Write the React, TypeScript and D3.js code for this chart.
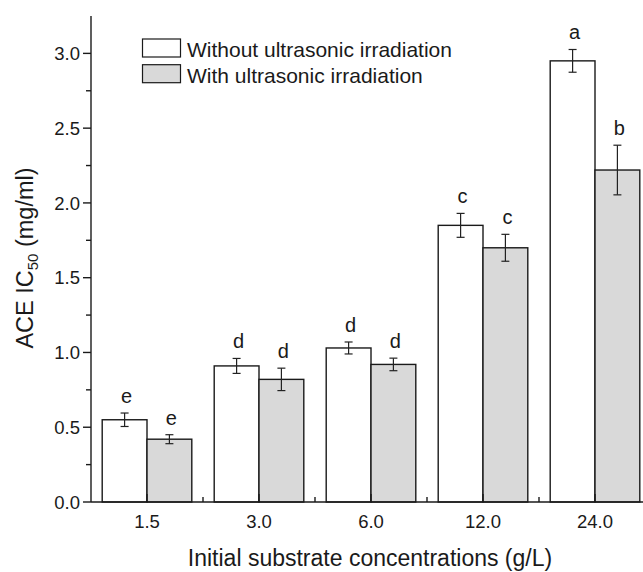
import React, { useEffect, useRef } from "react";
import * as d3 from "d3";

// concentrations on the x axis
const categories = ["1.5", "3.0", "6.0", "12.0", "24.0"];
const seriesNames = ["Without ultrasonic irradiation", "With ultrasonic irradiation"];
// IC50 values (mg/ml)
const withoutValues = [0.55, 0.91, 1.03, 1.85, 2.95];
const withValues = [0.42, 0.82, 0.92, 1.70, 2.22];
const withoutErr = [0.045, 0.05, 0.04, 0.08, 0.076];
const withErr = [0.03, 0.075, 0.042, 0.09, 0.166];
const withoutLetters = ["e", "d", "d", "c", "a"];
const withLetters = ["e", "d", "d", "c", "b"];
const yTicks = [0, 0.5, 1.0, 1.5, 2.0, 2.5, 3.0];

const W = 643;
const H = 572;
const FONT = "'Liberation Sans', Arial, Helvetica, sans-serif";

const App = () => {
  const svgRef = useRef<SVGSVGElement | null>(null);

  useEffect(() => {
    const svg = d3.select(svgRef.current);
    svg.selectAll("*").remove();

    const x = d3.scaleBand<string>().domain(categories).range([91, 651]).padding(0);
    const y = d3.scaleLinear().domain([0, 3.25]).range([502, 16]);
    const barW = x.bandwidth() * 0.4;
    const cx = (c: string) => (x(c) as number) + x.bandwidth() / 2;

    const series = [
      { values: withoutValues, err: withoutErr, letters: withoutLetters, fill: "#ffffff", off: -barW },
      { values: withValues, err: withErr, letters: withLetters, fill: "#d9d9d9", off: 0 },
    ];

    // bars
    series.forEach((s) => {
      svg.append("g")
        .selectAll("rect")
        .data(categories)
        .enter()
        .append("rect")
        .attr("x", (c) => cx(c) + s.off)
        .attr("y", (c, i) => y(s.values[i]))
        .attr("width", barW)
        .attr("height", (c, i) => y(0) - y(s.values[i]))
        .attr("fill", s.fill)
        .attr("stroke", "#1a1a1a")
        .attr("stroke-width", 1.4);
    });

    // error bars + letters
    series.forEach((s) => {
      const g = svg.append("g").attr("stroke", "#222").attr("stroke-width", 1.2);
      categories.forEach((c, i) => {
        const mx = cx(c) + s.off + barW / 2;
        const top = y(s.values[i] + s.err[i]);
        const bot = y(s.values[i] - s.err[i]);
        g.append("line").attr("x1", mx).attr("x2", mx).attr("y1", top).attr("y2", bot);
        g.append("line").attr("x1", mx - 4).attr("x2", mx + 4).attr("y1", top).attr("y2", top);
        g.append("line").attr("x1", mx - 4).attr("x2", mx + 4).attr("y1", bot).attr("y2", bot);
        svg.append("text")
          .attr("x", mx + 2)
          .attr("y", top - 10)
          .attr("text-anchor", "middle")
          .attr("font-family", FONT)
          .attr("font-size", 20)
          .attr("fill", "#1a1a1a")
          .text(s.letters[i]);
      });
    });

    // y axis
    const yAxis = svg.append("g").attr("stroke", "#1a1a1a").attr("stroke-width", 1.4);
    yAxis.append("line").attr("x1", 91).attr("x2", 91).attr("y1", y(3.25)).attr("y2", y(0));
    d3.range(0, 13).forEach((k) => {
      const v = k * 0.25;
      const major = k % 2 === 0;
      yAxis.append("line")
        .attr("x1", major ? 83 : 86)
        .attr("x2", 91)
        .attr("y1", y(v))
        .attr("y2", y(v));
    });
    svg.append("g")
      .selectAll("text")
      .data(yTicks)
      .enter()
      .append("text")
      .attr("x", 80)
      .attr("y", (d) => y(d))
      .attr("dy", "0.36em")
      .attr("text-anchor", "end")
      .attr("font-family", FONT)
      .attr("font-size", 18.5)
      .attr("fill", "#1a1a1a")
      .text((d) => d.toFixed(1));

    // x axis
    const xAxis = svg.append("g").attr("stroke", "#1a1a1a").attr("stroke-width", 1.4);
    xAxis.append("line").attr("x1", 91).attr("x2", W).attr("y1", y(0)).attr("y2", y(0));
    categories.forEach((c, i) => {
      if (i > 0) {
        const bx = x(c) as number;
        xAxis.append("line").attr("x1", bx).attr("x2", bx).attr("y1", y(0)).attr("y2", y(0) - 5);
      }
      xAxis.append("line").attr("x1", cx(c)).attr("x2", cx(c)).attr("y1", y(0)).attr("y2", y(0) - 8);
    });
    svg.append("g")
      .selectAll("text")
      .data(categories)
      .enter()
      .append("text")
      .attr("x", (c) => cx(c))
      .attr("y", 528)
      .attr("text-anchor", "middle")
      .attr("font-family", FONT)
      .attr("font-size", 18.5)
      .attr("fill", "#1a1a1a")
      .text((c) => c);

    // axis titles
    svg.append("text")
      .attr("x", 370)
      .attr("y", 566)
      .attr("text-anchor", "middle")
      .attr("font-family", FONT)
      .attr("font-size", 23)
      .attr("fill", "#1a1a1a")
      .text("Initial substrate concentrations (g/L)");

    const yt = svg.append("text")
      .attr("transform", "translate(33,258) rotate(-90)")
      .attr("text-anchor", "middle")
      .attr("font-family", FONT)
      .attr("font-size", 23.5)
      .attr("fill", "#1a1a1a");
    yt.append("tspan").text("ACE IC");
    yt.append("tspan").attr("font-size", 15).attr("dy", 5).text("50");
    yt.append("tspan").attr("dy", -5).text(" (mg/ml)");

    // legend
    const lg = svg.append("g");
    [{ name: seriesNames[0], fill: "#ffffff" }, { name: seriesNames[1], fill: "#d9d9d9" }].forEach((d, i) => {
      const ly = 39 + i * 25.7;
      lg.append("rect")
        .attr("x", 142.5)
        .attr("y", ly)
        .attr("width", 38)
        .attr("height", 18)
        .attr("fill", d.fill)
        .attr("stroke", "#1a1a1a")
        .attr("stroke-width", 1.2);
      lg.append("text")
        .attr("x", 187)
        .attr("y", ly + 18)
        .attr("font-family", FONT)
        .attr("font-size", 21)
        .attr("fill", "#1a1a1a")
        .text(d.name);
    });
  }, []);

  return (
    <svg
      ref={svgRef}
      width={W}
      height={H}
      style={{ position: "absolute", left: 0, top: 0, background: "#fff" }}
    />
  );
};

export default App;
